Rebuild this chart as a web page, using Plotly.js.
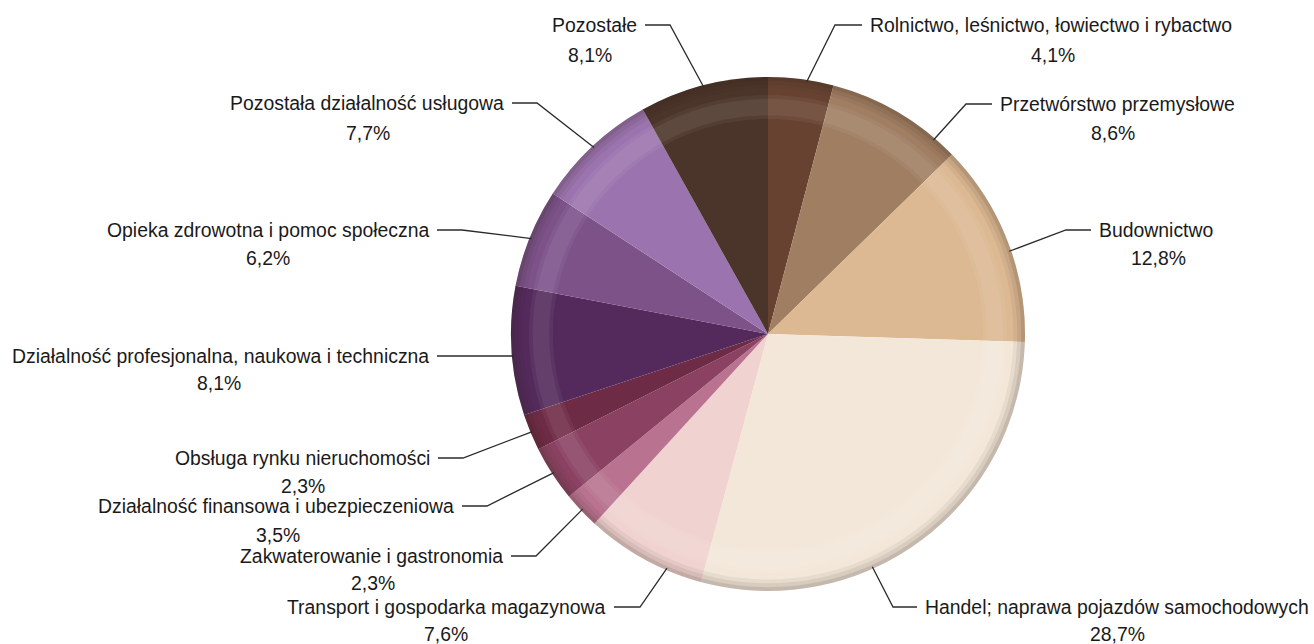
<!DOCTYPE html>
<html>
<head>
<meta charset="utf-8">
<script src="https://cdn.plot.ly/plotly-3.0.1.min.js"></script>
<style>html,body{margin:0;padding:0;background:#fff;}#chart{width:1314px;height:644px;}</style>
</head>
<body>
<div id="chart"></div>
<script>
// ---- data ----
const categories = [
  "Rolnictwo, leśnictwo, łowiectwo i rybactwo",
  "Przetwórstwo przemysłowe",
  "Budownictwo",
  "Handel; naprawa pojazdów samochodowych",
  "Transport i gospodarka magazynowa",
  "Zakwaterowanie i gastronomia",
  "Działalność finansowa i ubezpieczeniowa",
  "Obsługa rynku nieruchomości",
  "Działalność profesjonalna, naukowa i techniczna",
  "Opieka zdrowotna i pomoc społeczna",
  "Pozostała działalność usługowa",
  "Pozostałe"
];
const values = [4.1, 8.6, 12.8, 28.7, 7.6, 2.3, 3.5, 2.3, 8.1, 6.2, 7.7, 8.1];
const colors = ["#674230","#a07e62","#dcb993","#f3e7d9","#f0d3d0","#b9728f","#8b4262","#6e2b45","#532a5b","#7c5289","#9b73ae","#4b3429"];

// ---- layout (positions only) ----
const W = 1314, H = 644;
const CX = 768, CY = 334, R = 257;
const FONT = "'Liberation Sans Narrow', 'Arial Narrow', 'Liberation Sans', Arial, sans-serif";
const FS = 19.4;
// side, dash near-text x, elbow x, label y, pct center x, pct y, anchor fraction within slice
const labelPos = [
  {side:"right", dashText:862, elbow:835, y:25,  pctX:1053, pctY:55,  frac:0.59},
  {side:"right", dashText:992, elbow:966, y:104, pctX:1113, pctY:133, frac:0.83},
  {side:"right", dashText:1091, elbow:1066, y:230, pctX:1158, pctY:258, frac:0.55},
  {side:"right", dashText:917, elbow:893, y:607, pctX:1117, pctY:634, frac:0.62},
  {side:"left",  dashText:614, elbow:640, y:607, pctX:446, pctY:634, frac:0.3},
  {side:"left",  dashText:511, elbow:536, y:556, pctX:373, pctY:583, frac:0.5},
  {side:"left",  dashText:462, elbow:487, y:506, pctX:278, pctY:535, frac:0.5},
  {side:"left",  dashText:438, elbow:463, y:458, pctX:303, pctY:486, frac:0.5},
  {side:"left",  dashText:437, elbow:462, y:356, pctX:219, pctY:383, frac:0.46},
  {side:"left",  dashText:437, elbow:462, y:230, pctX:268, pctY:258, frac:0.5},
  {side:"left",  dashText:512, elbow:537, y:103, pctX:368, pctY:133, frac:0.5},
  {side:"left",  dashText:645, elbow:670, y:25,  pctX:590, pctY:55,  frac:0.5}
];

const px = x => x / W;
const py = y => 1 - y / H;

const total = values.reduce((a,b)=>a+b,0);
const shapes = [];
const annotations = [];
let cum = 0;
values.forEach((v,i)=>{
  const a0 = cum / total * 360;
  const a1 = (cum + v) / total * 360;
  cum += v;
  const lp = labelPos[i];
  const th = (a0 + lp.frac*(a1-a0)) * Math.PI/180;
  const ax = CX + (R-2)*Math.sin(th);
  const ay = CY - (R-2)*Math.cos(th);
  shapes.push({
    type:"path", xref:"paper", yref:"paper",
    path:`M ${px(lp.dashText)} ${py(lp.y)} L ${px(lp.elbow)} ${py(lp.y)} L ${px(ax)} ${py(ay)}`,
    line:{color:"#2b2b2b", width:1.3}
  });
  const textX = lp.side === "right" ? lp.dashText + 6 : lp.dashText - 6;
  annotations.push({
    xref:"paper", yref:"paper", x:px(textX), y:py(lp.y),
    xanchor: lp.side === "right" ? "left" : "right", yanchor:"middle",
    text: categories[i], showarrow:false,
    font:{family:FONT, size:FS, color:"#1a1a1a"}
  });
  annotations.push({
    xref:"paper", yref:"paper", x:px(lp.pctX), y:py(lp.pctY),
    xanchor:"center", yanchor:"middle",
    text: v.toFixed(1).replace(".", ",") + "%", showarrow:false,
    font:{family:FONT, size:FS, color:"#1a1a1a"}
  });
});

function dom(f){
  return {x:[px(CX-R*f), px(CX+R*f)], y:[py(CY+R*f), py(CY-R*f)]};
}

const pie = {
  type:"pie", labels:categories, values:values, sort:false,
  direction:"clockwise", rotation:0,
  marker:{colors:colors, line:{width:0}},
  textinfo:"none", hoverinfo:"none", showlegend:false,
  domain:dom(1)
};
// soft bevel: light band then darkening toward the edge
function ring(f, hole, color){
  return {type:"pie", values:[1], labels:["r"], sort:false, hole:hole,
    marker:{colors:[color], line:{width:0}},
    textinfo:"none", hoverinfo:"none", showlegend:false, domain:dom(f)};
}
const bevel = [
  ring(0.93, 0.90, "rgba(255,255,255,0.05)"),
  ring(0.915, 0.93, "rgba(255,255,255,0.06)"),
  ring(1, 0.955, "rgba(50,40,30,0.06)"),
  ring(1, 0.97, "rgba(50,40,30,0.08)"),
  ring(1, 0.985, "rgba(50,40,30,0.11)")
];

const layout = {
  width:W, height:H, margin:{l:0,r:0,t:0,b:0},
  paper_bgcolor:"#ffffff", plot_bgcolor:"#ffffff",
  shapes:shapes, annotations:annotations, showlegend:false
};
Plotly.newPlot("chart", [pie].concat(bevel), layout, {staticPlot:true, displayModeBar:false});
</script>
</body>
</html>
